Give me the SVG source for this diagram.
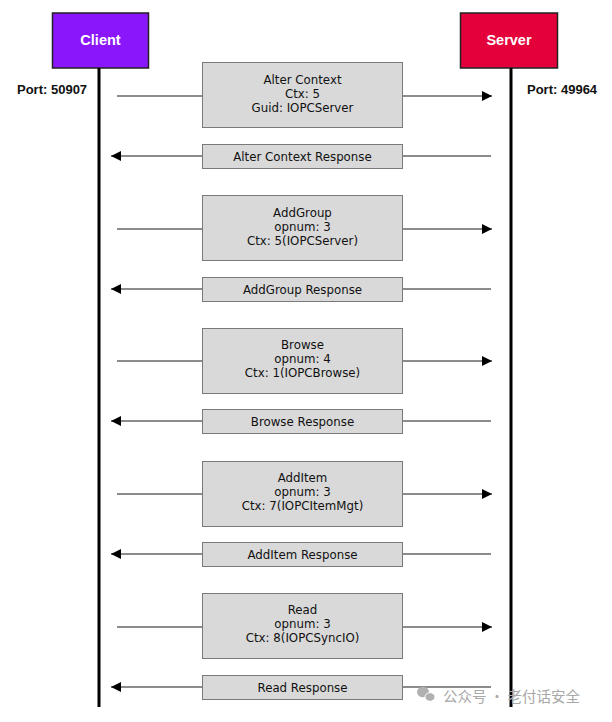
<svg xmlns="http://www.w3.org/2000/svg" width="612" height="722" viewBox="0 0 612 722">
<style>
.actor{stroke:#222;stroke-width:1.5}
.atxt{font-family:"Liberation Sans",Arial,sans-serif;font-weight:bold;font-size:14.5px;fill:#fff;text-anchor:middle}
.port{font-family:"Liberation Sans",Arial,sans-serif;font-weight:bold;font-size:13px;fill:#111}
.life{stroke:#000;stroke-width:3}
.msg{fill:#d9d9d9;stroke:#7a7a7a;stroke-width:1}
.mtxt{font-family:"DejaVu Sans",Verdana,sans-serif;font-size:11.8px;fill:#111;text-anchor:middle}
.line{stroke:#666;stroke-width:1.5;fill:none}
.wm{font-family:"Noto Sans CJK SC","Noto Sans",sans-serif;font-size:14.5px;fill:#a8a8a8}
</style>
<defs>
<marker id="ah" viewBox="0 0 10 10" refX="10" refY="5" markerWidth="10" markerHeight="10" markerUnits="userSpaceOnUse" orient="auto">
<path d="M0,0 L10,5 L0,10 Z" fill="#000"/>
</marker>
</defs>
<rect width="612" height="722" fill="#fff"/>
<g id="client">
<rect class="actor" x="52.5" y="13" width="96" height="55" fill="#8a17fa"/>
<text class="atxt" x="100.5" y="45">Client</text>
<line class="life" x1="99" y1="68" x2="99" y2="707"/>
<text class="port" x="17" y="94">Port: 50907</text>
</g>
<g id="server">
<rect class="actor" x="460.5" y="13" width="97" height="55" fill="#e4003a"/>
<text class="atxt" x="509" y="45">Server</text>
<line class="life" x1="511" y1="68" x2="511" y2="707"/>
<text class="port" x="527" y="94">Port: 49964</text>
</g>
<g id="connectors">
<line class="line" x1="117" y1="96" x2="202" y2="96"/><line class="line" x1="402" y1="96" x2="492" y2="96" marker-end="url(#ah)"/>
<line class="line" x1="491" y1="156" x2="402" y2="156"/><line class="line" x1="202" y1="156" x2="111" y2="156" marker-end="url(#ah)"/>
<line class="line" x1="117" y1="229" x2="202" y2="229"/><line class="line" x1="402" y1="229" x2="492" y2="229" marker-end="url(#ah)"/>
<line class="line" x1="491" y1="289" x2="402" y2="289"/><line class="line" x1="202" y1="289" x2="111" y2="289" marker-end="url(#ah)"/>
<line class="line" x1="117" y1="361" x2="202" y2="361"/><line class="line" x1="402" y1="361" x2="492" y2="361" marker-end="url(#ah)"/>
<line class="line" x1="491" y1="421" x2="402" y2="421"/><line class="line" x1="202" y1="421" x2="111" y2="421" marker-end="url(#ah)"/>
<line class="line" x1="117" y1="494" x2="202" y2="494"/><line class="line" x1="402" y1="494" x2="492" y2="494" marker-end="url(#ah)"/>
<line class="line" x1="491" y1="554" x2="402" y2="554"/><line class="line" x1="202" y1="554" x2="111" y2="554" marker-end="url(#ah)"/>
<line class="line" x1="117" y1="627" x2="202" y2="627"/><line class="line" x1="402" y1="627" x2="492" y2="627" marker-end="url(#ah)"/>
<line class="line" x1="491" y1="687" x2="402" y2="687"/><line class="line" x1="202" y1="687" x2="111" y2="687" marker-end="url(#ah)"/>
</g>
<g id="alter-context">
<rect class="msg" x="202.5" y="62.5" width="200" height="65"/>
<text class="mtxt" x="302.5" y="84">Alter Context</text>
<text class="mtxt" x="302.5" y="98">Ctx: 5</text>
<text class="mtxt" x="302.5" y="112">Guid: IOPCServer</text>
</g>
<g id="alter-context-response">
<rect class="msg" x="202.5" y="144.5" width="200" height="24"/>
<text class="mtxt" x="302.5" y="160.5">Alter Context Response</text>
</g>
<g id="addgroup">
<rect class="msg" x="202.5" y="195.5" width="200" height="65"/>
<text class="mtxt" x="302.5" y="217">AddGroup</text>
<text class="mtxt" x="302.5" y="231">opnum: 3</text>
<text class="mtxt" x="302.5" y="245">Ctx: 5(IOPCServer)</text>
</g>
<g id="addgroup-response">
<rect class="msg" x="202.5" y="277.5" width="200" height="24"/>
<text class="mtxt" x="302.5" y="293.5">AddGroup Response</text>
</g>
<g id="browse">
<rect class="msg" x="202.5" y="328.5" width="200" height="65"/>
<text class="mtxt" x="302.5" y="349">Browse</text>
<text class="mtxt" x="302.5" y="363">opnum: 4</text>
<text class="mtxt" x="302.5" y="377">Ctx: 1(IOPCBrowse)</text>
</g>
<g id="browse-response">
<rect class="msg" x="202.5" y="409.5" width="200" height="24"/>
<text class="mtxt" x="302.5" y="425.5">Browse Response</text>
</g>
<g id="additem">
<rect class="msg" x="202.5" y="461.5" width="200" height="65"/>
<text class="mtxt" x="302.5" y="482">AddItem</text>
<text class="mtxt" x="302.5" y="496">opnum: 3</text>
<text class="mtxt" x="302.5" y="510">Ctx: 7(IOPCItemMgt)</text>
</g>
<g id="additem-response">
<rect class="msg" x="202.5" y="542.5" width="200" height="24"/>
<text class="mtxt" x="302.5" y="558.5">AddItem Response</text>
</g>
<g id="read">
<rect class="msg" x="202.5" y="593.5" width="200" height="65"/>
<text class="mtxt" x="302.5" y="614">Read</text>
<text class="mtxt" x="302.5" y="628">opnum: 3</text>
<text class="mtxt" x="302.5" y="642">Ctx: 8(IOPCSyncIO)</text>
</g>
<g id="read-response">
<rect class="msg" x="202.5" y="675.5" width="200" height="24"/>
<text class="mtxt" x="302.5" y="691.5">Read Response</text>
</g>
<g id="watermark">
<ellipse cx="423" cy="692" rx="6" ry="5.2" fill="#b0b0b0"/>
<ellipse cx="430" cy="697" rx="5" ry="4.3" fill="#b0b0b0" stroke="#fff" stroke-width="1"/>
<text class="wm" x="443" y="702">公众号 · 老付话安全</text>
</g>
</svg>
